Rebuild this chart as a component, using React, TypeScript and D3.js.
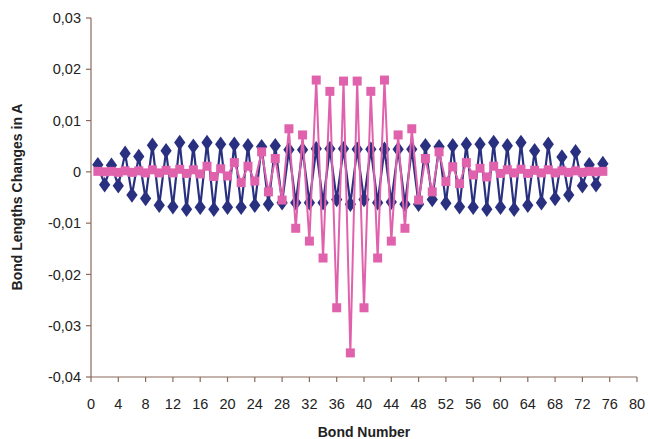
import React from "react";
import * as d3 from "d3";

const bonds: number[] = Array.from({ length: 75 }, (_, i) => i + 1);

const blueValues: number[] = [
  0.0014, -0.0025, 0.0013, -0.0027, 0.0036, -0.0045, 0.003, -0.0052, 0.0052, -0.0065,
  0.0041, -0.0068, 0.0057, -0.0073, 0.005, -0.0069, 0.0057, -0.0073, 0.0054, -0.0069,
  0.0054, -0.0069, 0.0051, -0.0065, 0.0049, -0.0063, 0.0051, -0.006, 0.0043, -0.006,
  0.0043, -0.006, 0.0045, -0.006, 0.0045, -0.0054, 0.0045, -0.0063, 0.0044, -0.0054,
  0.0044, -0.006, 0.0044, -0.0059, 0.0044, -0.0063, 0.0044, -0.0063, 0.0051, -0.0054,
  0.0049, -0.0061, 0.0051, -0.0068, 0.0054, -0.0069, 0.0054, -0.0073, 0.0057, -0.0069,
  0.0051, -0.0073, 0.0057, -0.0065, 0.0041, -0.006, 0.0054, -0.0052, 0.0029, -0.0045,
  0.0039, -0.0027, 0.0014, -0.0025, 0.0016,
];

const pinkValues: number[] = [
  0.0001, 0.0, 0.0001, -0.0001, 0.0002, -0.0001, 0.0002, -0.0002, 0.0004, -0.0002,
  0.0003, -0.0002, 0.0005, -0.0003, 0.0004, -0.0004, 0.0011, -0.0009, 0.0006, -0.0008,
  0.0018, -0.0021, 0.0011, -0.0018, 0.0039, -0.0039, 0.0026, -0.0055, 0.0084, -0.011,
  0.0072, -0.0135, 0.0179, -0.0168, 0.0157, -0.0265, 0.0177, -0.0353, 0.0177, -0.0265,
  0.0157, -0.0168, 0.0179, -0.0135, 0.0072, -0.011, 0.0084, -0.0055, 0.0026, -0.0039,
  0.0039, -0.0019, 0.001, -0.0023, 0.0018, -0.0006, 0.0007, -0.001, 0.0011, -0.0003,
  0.0004, -0.0002, 0.0005, -0.0003, 0.0003, -0.0002, 0.0004, -0.0002, 0.0002, -0.0001,
  0.0002, -0.0001, 0.0001, 0.0, 0.0001,
];

const xTicks: number[] = d3.range(0, 81, 4);
const yTicks: number[] = [-0.04, -0.03, -0.02, -0.01, 0, 0.01, 0.02, 0.03];

const W = 648;
const H = 439;
const BLUE = "#28307f";
const PINK = "#e062ad";
const AXIS = "#8a6a5c";
const FONT = "'Liberation Sans', Arial, sans-serif";

export default function App() {
  const x = d3.scaleLinear().domain([0, 80]).range([91, 637]);
  const y = d3.scaleLinear().domain([-0.04, 0.03]).range([377, 18]);
  const fmt = (v: number) =>
    Math.abs(v) < 1e-9 ? "0" : (v < 0 ? "-" : "") + Math.abs(v).toFixed(2).replace(".", ",");

  const line = d3
    .line<number>()
    .x((_, i) => x(bonds[i]))
    .y((d) => y(d));

  return (
    <svg
      width={W}
      height={H}
      style={{ position: "absolute", left: 0, top: 0, background: "#fff" }}
      fontFamily={FONT}
    >
      {/* axes */}
      <line x1={x(0)} x2={x(0)} y1={y(0.03)} y2={y(-0.04)} stroke={AXIS} strokeWidth={1.2} />
      <line x1={x(0)} x2={x(80)} y1={y(-0.04)} y2={y(-0.04)} stroke={AXIS} strokeWidth={1.2} />
      {yTicks.map((t) => (
        <g key={"y" + t}>
          <line x1={x(0) - 5} x2={x(0)} y1={y(t)} y2={y(t)} stroke={AXIS} strokeWidth={1.2} />
          <text x={x(0) - 10} y={y(t)} dy="0.35em" textAnchor="end" fontSize={14.5} fill="#222">
            {fmt(t)}
          </text>
        </g>
      ))}
      {xTicks.map((t) => (
        <g key={"x" + t}>
          <line x1={x(t)} x2={x(t)} y1={y(-0.04)} y2={y(-0.04) + 5} stroke={AXIS} strokeWidth={1.2} />
          <text x={x(t)} y={y(-0.04) + 32} textAnchor="middle" fontSize={14.5} fill="#222">
            {t}
          </text>
        </g>
      ))}
      <text x={364} y={437} textAnchor="middle" fontSize={14} fontWeight="bold" fill="#222">
        Bond Number
      </text>
      <text
        transform={`translate(22,197) rotate(-90)`}
        textAnchor="middle"
        fontSize={14}
        fontWeight="bold"
        fill="#222"
      >
        Bond Lengths Changes in A
      </text>

      {/* blue series */}
      <path d={line(blueValues) || ""} fill="none" stroke={BLUE} strokeWidth={2.2} />
      {blueValues.map((v, i) => (
        <path
          key={"b" + i}
          d={d3.symbol(d3.symbolDiamond, 70)() || ""}
          transform={`translate(${x(bonds[i])},${y(v)}) scale(1.25,1)`}
          fill={BLUE}
        />
      ))}

      {/* pink series */}
      <path d={line(pinkValues) || ""} fill="none" stroke={PINK} strokeWidth={2} />
      {pinkValues.map((v, i) => (
        <rect
          key={"p" + i}
          x={x(bonds[i]) - 4.5}
          y={y(v) - 4.5}
          width={9}
          height={9}
          fill={PINK}
        />
      ))}
    </svg>
  );
}
